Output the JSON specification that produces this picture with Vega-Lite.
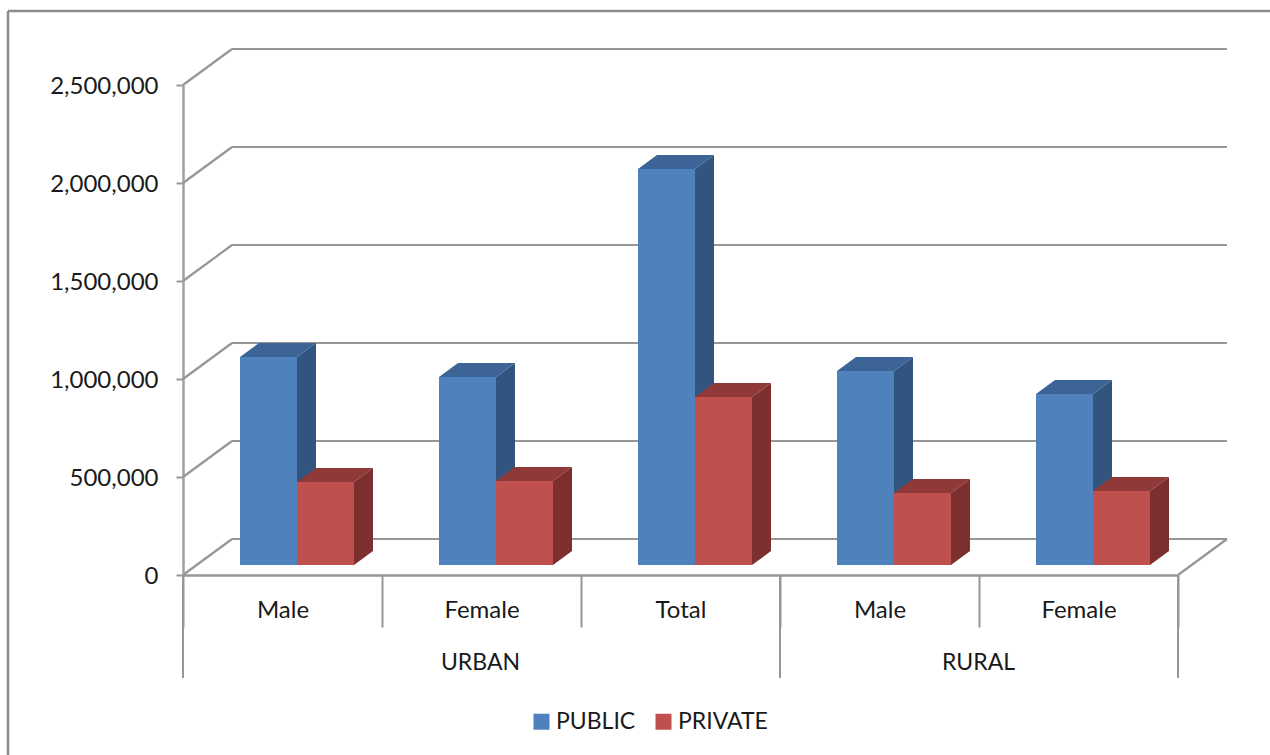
{"$schema":"https://vega.github.io/schema/vega-lite/v6.json","width":995,"height":490,"autosize":{"type":"none"},"padding":{"left":183,"top":85,"right":92,"bottom":180},"background":"white","config":{"view":{"stroke":null},"font":"Lato"},
"datasets":{"rows":[
{"key":"URBAN Male","series":"PUBLIC","value":1061000},{"key":"URBAN Male","series":"PRIVATE","value":423000},
{"key":"URBAN Female","series":"PUBLIC","value":959000},{"key":"URBAN Female","series":"PRIVATE","value":429000},
{"key":"URBAN Total","series":"PUBLIC","value":2020000},{"key":"URBAN Total","series":"PRIVATE","value":857000},
{"key":"RURAL Male","series":"PUBLIC","value":990000},{"key":"RURAL Male","series":"PRIVATE","value":367000},
{"key":"RURAL Female","series":"PUBLIC","value":872000},{"key":"RURAL Female","series":"PRIVATE","value":378000}],
"ticks":[{"v":0},{"v":500000},{"v":1000000},{"v":1500000},{"v":2000000},{"v":2500000}],
"groups":[{"key":"URBAN Male"},{"key":"RURAL Male"}],
"end":[{"key":"RURAL Female"}],"urban":[{"key":"URBAN Female","name":"URBAN"}],"rural":[{"key":"RURAL Female","name":"RURAL"}]},
"resolve":{"scale":{"x":"independent","xOffset":"independent"},"axis":{"x":"independent"}},
"layer":[
{"data":{"name":"ticks"},"mark":{"type":"rule","stroke":"#969696","strokeWidth":2.2,"xOffset":49,"x2Offset":49,"yOffset":-36},
"encoding":{"x":{"datum":0,"type":"quantitative","scale":{"domain":[0,5]},"axis":null},"x2":{"datum":5},
"y":{"field":"v","type":"quantitative","scale":{"domain":[0,2500000],"nice":false},"axis":{"title":null,"values":[0,500000,1000000,1500000,2000000,2500000],"labelExpr":"format(datum.value,',')","tickSize":7,"tickWidth":2,"tickColor":"#969696","domainColor":"#a0a0a0","domainWidth":2.5,"grid":false,"labelFont":"Lato","labelFontSize":24,"labelColor":"#1a1a1a","labelPadding":18,"labelOffset":1.5}}}},
{"data":{"name":"ticks"},"mark":{"type":"rule","stroke":"#969696","strokeWidth":2.2,"x2Offset":49,"y2Offset":-36},
"encoding":{"x":{"datum":0,"type":"quantitative","scale":{"domain":[0,5]},"axis":null},"x2":{"datum":0},"y":{"field":"v","type":"quantitative"},"y2":{"field":"v"}}},
{"data":{"values":[{"v":0}]},"mark":{"type":"rule","stroke":"#969696","strokeWidth":2.2,"x2Offset":49,"y2Offset":-36},
"encoding":{"x":{"datum":5,"type":"quantitative","scale":{"domain":[0,5]},"axis":null},"x2":{"datum":5},"y":{"field":"v","type":"quantitative"},"y2":{"field":"v"}}},
{"data":{"values":[{"v":0}]},"mark":{"type":"rule","stroke":"#8c8c8c","strokeWidth":2.5,"xOffset":-175,"x2Offset":92,"yOffset":-74},
"encoding":{"x":{"datum":0,"type":"quantitative","scale":{"domain":[0,5]},"axis":null},"x2":{"datum":5},"y":{"datum":2500000,"type":"quantitative"}}},
{"data":{"values":[{"v":0}]},"mark":{"type":"rule","stroke":"#8c8c8c","strokeWidth":2.5,"xOffset":-175,"yOffset":-74,"y2Offset":180},
"encoding":{"x":{"datum":0,"type":"quantitative","scale":{"domain":[0,5]},"axis":null},"y":{"datum":2500000,"type":"quantitative"},"y2":{"datum":0}}},
{"data":{"name":"groups"},"mark":{"type":"rule","stroke":"#969696","strokeWidth":2,"y2Offset":103},
"encoding":{"x":{"field":"key","type":"nominal","bandPosition":0,"scale":{"domain":["URBAN Male","URBAN Female","URBAN Total","RURAL Male","RURAL Female"],"paddingInner":0,"paddingOuter":0},"axis":null},"y":{"datum":0,"type":"quantitative"},"y2":{"datum":0}}},
{"data":{"name":"end"},"mark":{"type":"rule","stroke":"#969696","strokeWidth":2,"y2Offset":103},
"encoding":{"x":{"field":"key","type":"nominal","bandPosition":1,"scale":{"domain":["URBAN Male","URBAN Female","URBAN Total","RURAL Male","RURAL Female"],"paddingInner":0,"paddingOuter":0},"axis":null},"y":{"datum":0,"type":"quantitative"},"y2":{"datum":0}}},
{"data":{"name":"urban"},"mark":{"type":"text","font":"Lato","fontSize":23,"fill":"#1a1a1a","yOffset":88,"xOffset":-1},
"encoding":{"x":{"field":"key","type":"nominal","scale":{"domain":["URBAN Male","URBAN Female","URBAN Total","RURAL Male","RURAL Female"],"paddingInner":0,"paddingOuter":0},"axis":null},"y":{"datum":0,"type":"quantitative"},"text":{"field":"name"}}},
{"data":{"name":"rural"},"mark":{"type":"text","font":"Lato","fontSize":23,"fill":"#1a1a1a","yOffset":88,"xOffset":-100},
"encoding":{"x":{"field":"key","type":"nominal","scale":{"domain":["URBAN Male","URBAN Female","URBAN Total","RURAL Male","RURAL Female"],"paddingInner":0,"paddingOuter":0},"axis":null},"y":{"datum":0,"type":"quantitative"},"text":{"field":"name"}}},
{"data":{"name":"rows"},"transform":[{"filter":"datum.series=='PUBLIC'"},{"calculate":"[0,1]","as":"c"},{"flatten":["c"]},
{"calculate":"indexof(['URBAN Male','URBAN Female','URBAN Total','RURAL Male','RURAL Female'],datum.key)+114/199+datum.c*19/199","as":"xp"},
{"calculate":"datum.value+(10+14*datum.c)*5102","as":"yt"},{"calculate":"(10+14*datum.c)*5102","as":"yb"}],
"mark":{"type":"area","fill":"#32557f","line":false},
"encoding":{"x":{"field":"xp","type":"quantitative","scale":{"domain":[0,5]},"axis":null},"y":{"field":"yt","type":"quantitative","stack":null},"y2":{"field":"yb"},"detail":{"field":"key"}}},
{"data":{"name":"rows"},"transform":[{"filter":"datum.series=='PUBLIC'"},{"calculate":"[0,1,2,3]","as":"c"},{"flatten":["c"]},
{"calculate":"indexof(['URBAN Male','URBAN Female','URBAN Total','RURAL Male','RURAL Female'],datum.key)+(57+[0,19,57,76][datum.c])/199","as":"xp"},
{"calculate":"datum.value+(datum.c==0?10:24)*5102","as":"yt"},{"calculate":"datum.value+(datum.c==3?24:10)*5102","as":"yb"}],
"mark":{"type":"area","fill":"#3c6496","line":false},
"encoding":{"x":{"field":"xp","type":"quantitative","scale":{"domain":[0,5]},"axis":null},"y":{"field":"yt","type":"quantitative","stack":null},"y2":{"field":"yb"},"detail":{"field":"key"}}},
{"data":{"name":"rows"},"transform":[{"filter":"datum.series=='PRIVATE'"},{"calculate":"[0,1,2,3]","as":"c"},{"flatten":["c"]},
{"calculate":"indexof(['URBAN Male','URBAN Female','URBAN Total','RURAL Male','RURAL Female'],datum.key)+(114+[0,19,57,76][datum.c])/199","as":"xp"},
{"calculate":"datum.value+(datum.c==0?10:24)*5102","as":"yt"},{"calculate":"datum.value+(datum.c==3?24:10)*5102","as":"yb"}],
"mark":{"type":"area","fill":"#8f3a38","line":false},
"encoding":{"x":{"field":"xp","type":"quantitative","scale":{"domain":[0,5]},"axis":null},"y":{"field":"yt","type":"quantitative","stack":null},"y2":{"field":"yb"},"detail":{"field":"key"}}},
{"data":{"name":"rows"},"transform":[{"filter":"datum.series=='PRIVATE'"},{"calculate":"[0,1]","as":"c"},{"flatten":["c"]},
{"calculate":"indexof(['URBAN Male','URBAN Female','URBAN Total','RURAL Male','RURAL Female'],datum.key)+171/199+datum.c*19/199","as":"xp"},
{"calculate":"datum.value+(10+14*datum.c)*5102","as":"yt"},{"calculate":"(10+14*datum.c)*5102","as":"yb"}],
"mark":{"type":"area","fill":"#7c2f2e","line":false},
"encoding":{"x":{"field":"xp","type":"quantitative","scale":{"domain":[0,5]},"axis":null},"y":{"field":"yt","type":"quantitative","stack":null},"y2":{"field":"yb"},"detail":{"field":"key"}}},
{"data":{"name":"rows"},"mark":{"type":"bar","yOffset":-10,"y2Offset":-10},
"encoding":{"x":{"field":"key","type":"nominal","scale":{"domain":["URBAN Male","URBAN Female","URBAN Total","RURAL Male","RURAL Female"],"paddingInner":0,"paddingOuter":0},
"axis":{"title":null,"orient":"bottom","labelAngle":0,"tickBand":"extent","tickSize":52,"tickWidth":2,"tickColor":"#969696","domainColor":"#969696","domainWidth":2.5,"labelExpr":"split(datum.label,' ')[1]","labelFont":"Lato","labelFontSize":24,"labelColor":"#1a1a1a","labelPadding":-29}},
"xOffset":{"field":"series","type":"nominal","scale":{"domain":["PUBLIC","PRIVATE"],"paddingInner":0,"paddingOuter":0.7456,"align":0.6706}},
"y":{"field":"value","type":"quantitative","stack":null},"y2":{"datum":0},
"color":{"field":"series","type":"nominal","scale":{"domain":["PUBLIC","PRIVATE"],"range":["#4f81bd","#c0504d"]},"legend":{"title":null,"orient":"none","legendX":347,"legendY":625,"direction":"horizontal","symbolType":"square","symbolSize":256,"labelFont":"Lato","labelFontSize":23,"labelColor":"#1a1a1a","columnPadding":16,"symbolStrokeWidth":0,"labelOffset":3}}}}
]}
